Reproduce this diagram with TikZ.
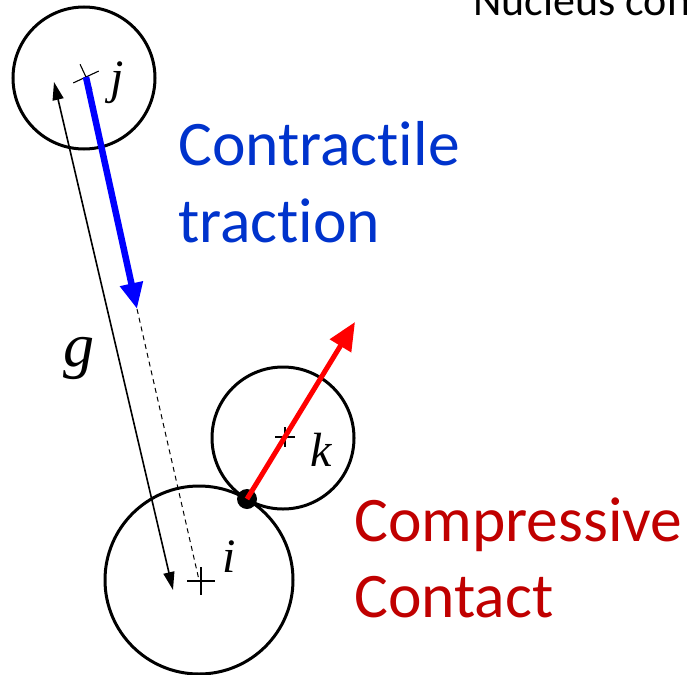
\documentclass[tikz,border=0pt]{standalone}
\usepackage{fontspec}
\setmainfont{Carlito}[Ligatures={NoCommon}]
\newfontfamily\tms{Liberation Serif}
\usetikzlibrary{arrows.meta}
\definecolor{txtblue}{RGB}{0,51,204}
\definecolor{txtred}{RGB}{192,0,0}
\begin{document}
\begin{tikzpicture}[x=1pt,y=-1pt,
  ball/.style={draw, circle, line width=3pt, inner sep=0pt, outer sep=0pt},
  crossmark/.style={line width=1.1pt},
  mathlbl/.style={font=\tms\itshape\fontsize{48}{50}\selectfont, inner sep=0pt, anchor=base west},
  bluelbl/.style={text=txtblue, font=\fontsize{63.5}{75}\selectfont, inner sep=0pt, anchor=base west},
  redlbl/.style={text=txtred, font=\fontsize{63.5}{75}\selectfont, inner sep=0pt, anchor=base west}]
\useasboundingbox (0,0) rectangle (687,674);
\clip (0,0) rectangle (687,674);
% circles
\node[ball, minimum size=142] (cj) at (84,78) {};
\node[ball, minimum size=188] (ci) at (199,580) {};
\node[ball, minimum size=142] (ck) at (283,438) {};
% centre marks
\draw[crossmark, rotate around={25:(86,77)}] (72,77) -- (100,77) (86,63) -- (86,91);
\draw[crossmark] (187,581) -- (215,581) (201,567) -- (201,595);
\draw[crossmark] (275,437) -- (295,437) (285,427) -- (285,447);
% labels
\node[mathlbl] (lj) at (110,94) {j};
\node[mathlbl] (li) at (222,572) {i};
\node[mathlbl] (lk) at (310,466) {k};
\node[mathlbl, font=\tms\itshape\fontsize{62}{64}\selectfont] (lg) at (63,366) {g};
% g arrow
\coordinate (gtop) at (54,82);
\coordinate (gbot) at (173,590);
\draw[line width=1.6pt, {Triangle[length=18pt,width=11pt]}-{Triangle[length=18pt,width=11pt]}] (gtop) -- (gbot);
% dashed line and blue traction
\coordinate (bt) at (137,309);
\draw[line width=1pt, dash pattern=on 5pt off 4pt] (bt) -- (ci.center);
\draw[blue, line width=6.5pt, -{Triangle[length=26pt,width=22pt]}] (86,77) -- (bt);
% contact
\node[circle, fill=black, minimum size=20, inner sep=0pt] (dot) at (247,499) {};
\coordinate (rt) at (355,322);
\draw[red, line width=5pt, -{Triangle[length=28pt,width=24pt]}] (dot.center) -- (rt);
% texts
\node[bluelbl] (t1) at (178,165) {Contractile};
\node[bluelbl] (t2) at (178,242) {traction};
\node[redlbl] (t3) at (354,541) {Compressive};
\node[redlbl] (t4) at (354,617) {Contact};
\node[inner sep=0pt, anchor=base west, font=\fontsize{44}{50}\selectfont] (nc) at (473,16) {Nucleus con};
\end{tikzpicture}
\end{document}
